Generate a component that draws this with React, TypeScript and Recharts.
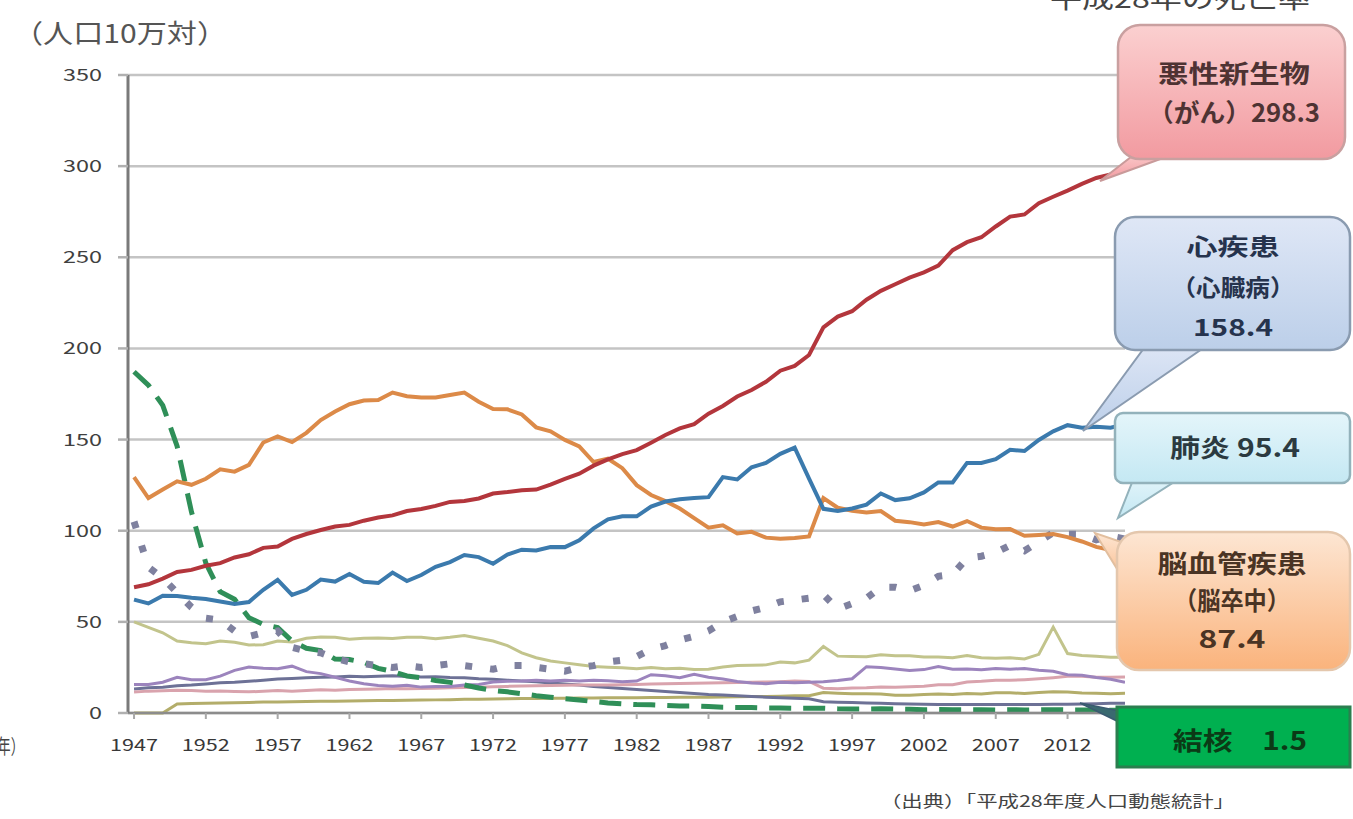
import React from 'react';
import { LineChart, Line, XAxis, YAxis, CartesianGrid } from 'recharts';

const years = [
  1947, 1948, 1949, 1950, 1951, 1952, 1953, 1954, 1955, 1956,
  1957, 1958, 1959, 1960, 1961, 1962, 1963, 1964, 1965, 1966,
  1967, 1968, 1969, 1970, 1971, 1972, 1973, 1974, 1975, 1976,
  1977, 1978, 1979, 1980, 1981, 1982, 1983, 1984, 1985, 1986,
  1987, 1988, 1989, 1990, 1991, 1992, 1993, 1994, 1995, 1996,
  1997, 1998, 1999, 2000, 2001, 2002, 2003, 2004, 2005, 2006,
  2007, 2008, 2009, 2010, 2011, 2012, 2013, 2014, 2015, 2016,
];

const cancer = [
  69.0, 70.6, 73.7, 77.4, 78.5, 80.8, 82.2, 85.3, 87.1, 90.6,
  91.3, 95.5, 98.2, 100.4, 102.3, 103.2, 105.5, 107.2, 108.4, 110.8,
  111.9, 113.6, 115.8, 116.3, 117.7, 120.4, 121.2, 122.2, 122.6, 125.3,
  128.4, 131.3, 135.7, 139.1, 142.0, 144.2, 148.3, 152.5, 156.1, 158.5,
  164.2, 168.4, 173.6, 177.2, 181.7, 187.8, 190.4, 196.4, 211.6, 217.5,
  220.4, 226.7, 231.6, 235.2, 238.8, 241.7, 245.4, 253.9, 258.3, 261.0,
  266.9, 272.3, 273.5, 279.7, 283.2, 286.6, 290.3, 293.5, 295.5, 298.3,
];

const heart = [
  62.2, 60.1, 64.3, 64.2, 63.2, 62.5, 61.2, 59.8, 60.9, 67.6,
  73.0, 64.8, 67.6, 73.2, 72.1, 76.2, 72.0, 71.3, 77.0, 72.4,
  75.7, 80.2, 82.8, 86.7, 85.5, 81.9, 86.9, 89.6, 89.2, 91.1,
  91.0, 94.7, 101.3, 106.2, 107.9, 107.9, 113.2, 116.0, 117.3, 117.9,
  118.4, 129.4, 128.1, 134.8, 137.2, 142.2, 145.6, 128.6, 112.0, 110.8,
  112.2, 114.3, 120.4, 116.8, 117.8, 121.0, 126.5, 126.5, 137.2, 137.2,
  139.2, 144.4, 143.7, 149.8, 154.5, 157.9, 156.5, 157.0, 156.5, 158.4,
];

const stroke = [
  129.4, 117.9, 122.6, 127.1, 125.2, 128.5, 133.7, 132.4, 136.1, 148.4,
  151.7, 148.6, 153.7, 160.7, 165.4, 169.4, 171.4, 171.7, 175.8, 173.8,
  173.1, 173.1, 174.4, 175.8, 170.8, 166.7, 166.6, 163.8, 156.7, 154.5,
  149.8, 146.2, 137.7, 139.5, 134.3, 125.0, 119.6, 116.2, 112.2, 106.9,
  101.7, 103.0, 98.5, 99.4, 96.2, 95.6, 96.0, 96.9, 117.9, 112.6,
  111.0, 110.0, 110.8, 105.5, 104.7, 103.4, 104.7, 102.3, 105.3, 101.7,
  100.8, 100.9, 97.2, 97.7, 98.2, 96.5, 94.1, 91.1, 89.4, 87.4,
];

const pneumonia = [
  105, 80, 74, 66, 58, 52, 51, 45, 42, 44,
  45, 36, 34, 33, 30, 28, 27, 26, 25, 26,
  25, 26, 27, 26, 25, 24, 26, 26, 25, 24,
  23, 25, 26, 28, 29, 31, 35, 37, 40, 42,
  45, 50, 53, 56, 58, 61, 62, 63, 65, 57,
  60, 63, 69, 69, 67, 70, 75, 76, 85, 86,
  88, 92, 89, 94, 99, 98, 98, 95, 97, 95.4,
];

const tuberculosis = [
  187.2, 179.9, 168.8, 146.4, 110.3, 82.2, 66.5, 62.4, 52.3, 48.6,
  46.9, 39.5, 35.5, 34.2, 29.6, 29.3, 27.8, 24.5, 22.8, 20.3,
  19.3, 17.8, 16.8, 15.4, 13.7, 12.4, 11.6, 10.6, 9.5, 8.7,
  7.8, 7.1, 6.3, 5.5, 5.0, 4.6, 4.5, 4.2, 3.9, 3.9,
  3.6, 3.1, 3.0, 3.0, 2.8, 2.7, 2.6, 2.6, 2.6, 2.3,
  2.2, 2.2, 2.3, 2.1, 2.0, 1.8, 1.9, 1.8, 1.8, 1.8,
  1.7, 1.8, 1.7, 1.7, 1.8, 1.7, 1.7, 1.7, 1.5, 1.5,
];

const accident = [
  50.0, 47.0, 44.0, 39.5, 38.5, 38.0, 39.5, 38.8, 37.3, 37.5,
  39.5, 39.0, 41.0, 41.7, 41.5, 40.5, 41.0, 41.2, 40.9, 41.5,
  41.5, 40.8, 41.5, 42.5, 41.0, 39.5, 37.0, 33.0, 30.3, 28.5,
  27.5, 26.5, 25.5, 25.1, 24.8, 24.3, 24.9, 24.3, 24.6, 23.8,
  24.0, 25.2, 26.0, 26.2, 26.4, 28.0, 27.5, 29.0, 36.5, 31.2,
  31.0, 30.8, 32.0, 31.4, 31.4, 30.7, 30.7, 30.3, 31.6, 30.3,
  30.1, 30.3, 29.6, 32.2, 47.1, 32.6, 31.5, 31.1, 30.6, 30.6,
];

const suicide = [
  15.7, 15.7, 16.9, 19.6, 18.2, 18.2, 20.2, 23.4, 25.2, 24.5,
  24.3, 25.7, 22.7, 21.6, 19.6, 17.6, 16.1, 15.1, 14.7, 15.2,
  14.2, 14.5, 14.5, 15.3, 15.6, 17.0, 17.4, 17.5, 18.0, 17.6,
  17.9, 17.6, 18.0, 17.7, 17.1, 17.5, 21.0, 20.4, 19.4, 21.2,
  19.6, 18.7, 17.3, 16.4, 16.1, 16.9, 16.6, 16.9, 17.2, 17.8,
  18.8, 25.4, 25.0, 24.1, 23.3, 23.8, 25.5, 24.0, 24.2, 23.7,
  24.4, 24.0, 24.4, 23.4, 22.9, 21.0, 20.7, 19.5, 18.5, 16.8,
];

const kidney = [
  11.5, 12.0, 12.2, 12.5, 12.3, 12.0, 12.1, 11.8, 11.6, 11.9,
  12.3, 12.0, 12.4, 12.7, 12.5, 12.9, 13.0, 13.2, 13.5, 13.3,
  13.4, 13.6, 13.8, 14.0, 14.1, 14.4, 14.6, 14.8, 15.0, 15.1,
  15.2, 15.3, 15.3, 15.4, 15.5, 15.7, 15.9, 16.0, 16.2, 16.3,
  16.4, 16.6, 16.8, 16.9, 17.0, 17.2, 17.5, 17.3, 13.6, 13.3,
  13.7, 13.9, 14.3, 14.1, 14.4, 14.7, 15.5, 15.5, 17.0, 17.4,
  18.0, 17.9, 18.3, 18.8, 19.4, 20.1, 20.1, 19.6, 19.6, 19.7,
];

const diabetes = [
  0, 0, 0, 5.0, 5.2, 5.3, 5.5, 5.6, 5.8, 6.0,
  6.1, 6.2, 6.3, 6.4, 6.5, 6.6, 6.7, 6.8, 6.9, 7.0,
  7.1, 7.2, 7.3, 7.5, 7.6, 7.7, 7.8, 8.0, 8.0, 8.1,
  8.1, 8.2, 8.2, 8.3, 8.3, 8.4, 8.5, 8.5, 8.6, 8.6,
  8.7, 8.8, 8.9, 9.0, 9.1, 9.2, 9.4, 9.5, 11.2, 10.8,
  10.5, 10.6, 10.4, 9.8, 9.8, 10.2, 10.4, 10.1, 10.7, 10.4,
  11.1, 11.1, 10.7, 11.3, 11.7, 11.5, 11.0, 10.9, 10.6, 10.8,
];

const hypertension = [
  13.2, 13.8, 14.1, 14.9, 15.3, 15.9, 16.6, 16.9, 17.4, 18.0,
  18.6, 18.9, 19.3, 19.6, 19.8, 20.1, 19.9, 20.2, 20.4, 20.0,
  19.8, 19.9, 19.5, 19.3, 18.8, 18.5, 18.0, 17.6, 17.1, 16.4,
  15.9, 15.3, 14.6, 14.0, 13.5, 12.9, 12.3, 11.8, 11.2, 10.7,
  10.2, 9.9, 9.5, 9.1, 8.7, 8.4, 8.1, 7.8, 6.2, 5.9,
  5.7, 5.5, 5.4, 5.1, 4.9, 4.8, 4.7, 4.6, 4.6, 4.6,
  4.7, 4.6, 4.6, 4.7, 4.8, 4.8, 5.0, 5.1, 5.3, 5.4,
];

const xTicks = [1947, 1952, 1957, 1962, 1967, 1972, 1977, 1982, 1987, 1992, 1997, 2002, 2007, 2012];
const yTicks = [0, 50, 100, 150, 200, 250, 300, 350];

const data = years.map((year, i) => ({
  year,
  cancer: cancer[i],
  heart: heart[i],
  stroke: stroke[i],
  pneumonia: pneumonia[i],
  tuberculosis: tuberculosis[i],
  accident: accident[i],
  suicide: suicide[i],
  kidney: kidney[i],
  diabetes: diabetes[i],
  hypertension: hypertension[i],
}));

const FONT = '"Noto Sans CJK JP", "Noto Sans", sans-serif';

const series = [
  { key: 'diabetes', name: '糖尿病', color: '#b3ad6a', width: 3 },
  { key: 'hypertension', name: '高血圧性疾患', color: '#6d7196', width: 3 },
  { key: 'kidney', name: '腎不全', color: '#d9a3ad', width: 3 },
  { key: 'suicide', name: '自殺', color: '#9c84bd', width: 3 },
  { key: 'accident', name: '不慮の事故', color: '#c2c48c', width: 3 },
  { key: 'tuberculosis', name: '結核', color: '#2f8f58', width: 5, dash: '22 12' },
  { key: 'pneumonia', name: '肺炎', color: '#7f819f', width: 7, dash: '7 18' },
  { key: 'stroke', name: '脳血管疾患', color: '#dc8a48', width: 4 },
  { key: 'heart', name: '心疾患', color: '#3b7aad', width: 4 },
  { key: 'cancer', name: '悪性新生物', color: '#b3363c', width: 4 },
];

const XTick = (props: any) => {
  const { x, payload } = props;
  return (
    <text x={x} y={751} textAnchor="middle" fontSize={16} fill="#383838" fontFamily={FONT}
      textLength={48} lengthAdjust="spacingAndGlyphs">
      {payload.value}
    </text>
  );
};

const YTick = (props: any) => {
  const { y, payload } = props;
  const s = String(payload.value);
  return (
    <text x={102} y={y + 6} textAnchor="end" fontSize={17} fill="#404040" fontFamily={FONT}
      textLength={s.length * 13} lengthAdjust="spacingAndGlyphs">
      {s}
    </text>
  );
};

const T = (p: { x: number; y: number; tl: number; size?: number; fill?: string; anchor?: string; weight?: number; children: React.ReactNode }) => (
  <text x={p.x} y={p.y} textAnchor={(p.anchor || 'middle') as any} fontSize={p.size || 25} fill={p.fill || '#333'}
    fontFamily={FONT} fontWeight={p.weight || 700} textLength={p.tl} lengthAdjust="spacingAndGlyphs">
    {p.children}
  </text>
);

const Overlay = () => (
  <svg width={1353} height={819} style={{ position: 'absolute', left: 0, top: 0, pointerEvents: 'none' }}>
    <defs>
      <linearGradient id="gRed" x1="0" y1="0" x2="0" y2="1">
        <stop offset="0" stopColor="#fbd0d0" />
        <stop offset="1" stopColor="#f29aa0" />
      </linearGradient>
      <linearGradient id="gBlue" x1="0" y1="0" x2="0" y2="1">
        <stop offset="0" stopColor="#dfe7f6" />
        <stop offset="1" stopColor="#bccfe9" />
      </linearGradient>
      <linearGradient id="gCyan" x1="0" y1="0" x2="0" y2="1">
        <stop offset="0" stopColor="#e4f5fa" />
        <stop offset="1" stopColor="#c4e8f3" />
      </linearGradient>
      <linearGradient id="gOrange" x1="0" y1="0" x2="0" y2="1">
        <stop offset="0" stopColor="#fde6d3" />
        <stop offset="1" stopColor="#fab37c" />
      </linearGradient>
    </defs>

    {/* titles */}
    <T x={13} y={43} tl={214} size={26} fill="#555" anchor="start" weight={400}>（人口10万対）</T>
    <T x={1180} y={8} tl={260} size={26} fill="#444" weight={400}>平成28年の死亡率</T>
    <T x={880} y={807} tl={355} size={16} fill="#444" anchor="start" weight={400}>（出典）「平成28年度人口動態統計」</T>
    <T x={24} y={754} tl={40} size={20} fill="#444" anchor="end" weight={400}>（年）</T>

    {/* cancer */}
    <polygon points="1140,150 1185,150 1100,181" fill="url(#gRed)" stroke="#c99a9a" strokeWidth={2} />
    <rect x={1118} y={25} width={227} height={134} rx={22} fill="url(#gRed)" stroke="#c9a0a0" strokeWidth={2.5} />
    <T x={1234} y={83} tl={152} fill="#4e3333">悪性新生物</T>
    <T x={1234} y={122} tl={172} fill="#4e3333">（がん）298.3</T>

    {/* heart */}
    <polygon points="1150,340 1215,340 1083,431" fill="url(#gBlue)" stroke="#8a9bb0" strokeWidth={2} />
    <rect x={1115} y={217} width={235} height={133} rx={20} fill="url(#gBlue)" stroke="#8a9bb0" strokeWidth={2.5} />
    <T x={1233} y={255} tl={93} size={23} fill="#26334d">心疾患</T>
    <T x={1233} y={296} tl={123} size={23} fill="#26334d">（心臓病）</T>
    <T x={1233} y={336} tl={80} size={23} fill="#26334d">158.4</T>

    {/* pneumonia */}
    <polygon points="1135,475 1185,475 1118,518" fill="url(#gCyan)" stroke="#93b2bb" strokeWidth={2} />
    <rect x={1115} y={413} width={235} height={70} rx={8} fill="url(#gCyan)" stroke="#93b2bb" strokeWidth={2.5} />
    <T x={1235} y={457} tl={130} fill="#2b3a40">肺炎 95.4</T>

    {/* stroke */}
    <polygon points="1130,545 1130,590 1095,533" fill="url(#gOrange)" stroke="#e2bf9f" strokeWidth={2} />
    <rect x={1117} y={532} width={233} height={138} rx={22} fill="url(#gOrange)" stroke="#e4c7ad" strokeWidth={2.5} />
    <T x={1232} y={573} tl={149} fill="#4a3424">脳血管疾患</T>
    <T x={1232} y={610} tl={116} fill="#4a3424">（脳卒中）</T>
    <T x={1232} y={648} tl={67} fill="#4a3424">87.4</T>

    {/* tuberculosis */}
    <polygon points="1125,712 1125,725 1080,703" fill="#3a6a70" stroke="#3a5a70" strokeWidth={1.5} />
    <rect x={1117} y={707} width={233} height={60} fill="#00b050" stroke="#2b7f4f" strokeWidth={3} />
    <T x={1240} y={750} tl={134} fill="#0b3a16">結核　1.5</T>
  </svg>
);

export default function App() {
  return (
    <div style={{ position: 'fixed', left: 0, top: 0, width: 1353, height: 819, background: '#fff', fontFamily: FONT }}>
      <LineChart width={1353} height={819} data={data} margin={{ top: 75, right: 228, bottom: 66, left: 0 }}>
        <CartesianGrid horizontal vertical={false} stroke="#c4c4c4" strokeWidth={2.5} />
        <XAxis dataKey="year" type="number" domain={[1946.58, 2016]} ticks={xTicks} height={40}
          axisLine={{ stroke: '#8c8c8c', strokeWidth: 2.5 }} tickLine={{ stroke: '#a8a8a8', strokeWidth: 2 }} tickSize={6}
          tick={<XTick />} interval={0} allowDataOverflow />
        <YAxis type="number" domain={[0, 350]} ticks={yTicks} width={128}
          axisLine={{ stroke: '#7a7a7a', strokeWidth: 3 }} tickLine={{ stroke: '#b0b0b0', strokeWidth: 2.5 }} tickSize={10}
          tick={<YTick />} interval={0} />
        {series.map((s) => (
          <Line key={s.key} type="linear" dataKey={s.key} name={s.name} stroke={s.color} strokeWidth={s.width}
            strokeDasharray={s.dash} dot={false} activeDot={false} isAnimationActive={false} />
        ))}
      </LineChart>
      <Overlay />
    </div>
  );
}
